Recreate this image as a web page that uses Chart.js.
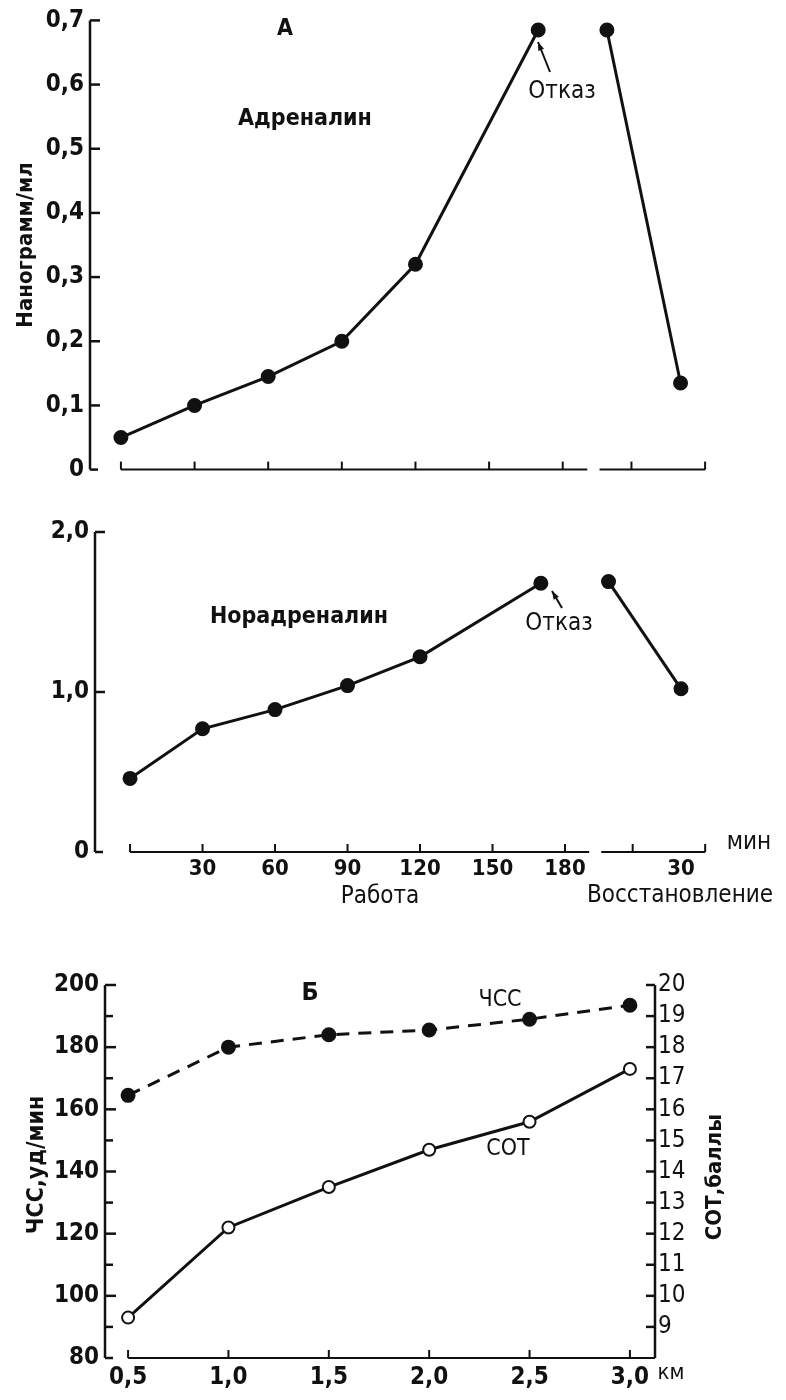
<!DOCTYPE html>
<html lang="ru">
<head>
<meta charset="utf-8">
<title>Адреналин, норадреналин, ЧСС и СОТ</title>
<script src="https://cdn.jsdelivr.net/npm/chart.js@4.4.1/dist/chart.umd.min.js"></script>
<style>
  html, body { margin: 0; padding: 0; background: #fff; }
  #page { position: relative; width: 786px; height: 1400px; }
  canvas { position: absolute; left: 0; }
</style>
</head>
<body>
<div id="page">
  <canvas id="chartA" width="786" height="490" style="top:0"></canvas>
  <canvas id="chartN" width="786" height="430" style="top:490px"></canvas>
  <canvas id="chartB" width="786" height="450" style="top:950px"></canvas>
</div>
<script>
// Panel A: work minutes and recovery minutes
const workMin = [0, 30, 60, 90, 120, 170];
const recMin = [0, 30];
const adrWork = [0.05, 0.1, 0.145, 0.2, 0.32, 0.685];
const adrRec = [0.685, 0.135];
const noradWork = [0.46, 0.77, 0.89, 1.04, 1.22, 1.68];
const noradRec = [1.69, 1.02];
const workTicks = [0, 30, 60, 90, 120, 150, 180];
const workLabels = [30, 60, 90, 120, 150, 180];
const recLabels = [30];
const recTickMarks = [10, 40];
const adrTicks = [0, 0.1, 0.2, 0.3, 0.4, 0.5, 0.6, 0.7];
const noradTicks = [0, 1.0, 2.0];

// Panel Б: distance, km
const km = [0.5, 1.0, 1.5, 2.0, 2.5, 3.0];
const hr = [164.5, 180, 184, 185.5, 189, 193.5];
const rpe = [9.3, 12.2, 13.5, 14.7, 15.6, 17.3];

// recovery is drawn after a break on the same minute axis
const REC_SHIFT = 198;

const INK = '#111';
const FONT = "'DejaVu Sans Condensed', 'Liberation Sans Narrow', 'DejaVu Sans', sans-serif";
Chart.defaults.font.family = FONT;
Chart.defaults.color = INK;

const comma = v => v === 0 ? '0' : v.toFixed(1).replace('.', ',');

function line(ctx, x1, y1, x2, y2) {
    ctx.beginPath();
    ctx.moveTo(x1, y1);
    ctx.lineTo(x2, y2);
    ctx.stroke();
}

function label(ctx, s, x, y, size, bold, rot) {
    ctx.save();
    ctx.fillStyle = INK;
    ctx.font = (bold ? 'bold ' : '') + size + 'px ' + FONT;
    ctx.textAlign = 'center';
    ctx.textBaseline = 'middle';
    ctx.translate(x, y);
    if (rot) ctx.rotate(rot);
    ctx.fillText(s, 0, 0);
    ctx.restore();
}

function arrow(ctx, x1, y1, x2, y2) {
    line(ctx, x1, y1, x2, y2);
    const a = Math.atan2(y2 - y1, x2 - x1);
    ctx.beginPath();
    ctx.moveTo(x2, y2);
    ctx.lineTo(x2 - 9 * Math.cos(a - 0.35), y2 - 9 * Math.sin(a - 0.35));
    ctx.lineTo(x2 - 9 * Math.cos(a + 0.35), y2 - 9 * Math.sin(a + 0.35));
    ctx.closePath();
    ctx.fill();
}

function pts(xs, ys, shift = 0) {
    return xs.map((t, i) => ({ x: t + shift, y: ys[i] }));
}

function series(data) {
    return {
        data: data,
        borderColor: INK,
        borderWidth: 3,
        pointRadius: 6,
        pointBackgroundColor: INK,
        pointBorderColor: INK,
        tension: 0,
        clip: false
    };
}

// axes with inward ticks and the break between work and recovery
function minuteAxes(yTicks) {
    return {
        id: 'minuteAxes',
        afterDraw(chart) {
            const { ctx, chartArea: a, scales: { x, y } } = chart;
            ctx.save();
            ctx.strokeStyle = INK;
            ctx.lineWidth = 2.5;
            const y0 = y.getPixelForValue(0);
            line(ctx, a.left, y.getPixelForValue(yTicks[yTicks.length - 1]), a.left, y0);
            line(ctx, a.left, y0, a.left + 8, y0);
            yTicks.forEach(v => {
                if (v > 0) {
                    const py = y.getPixelForValue(v);
                    line(ctx, a.left, py, a.left + 10, py);
                }
            });
            ctx.lineWidth = 2;
            line(ctx, x.getPixelForValue(0), y0, x.getPixelForValue(190), y0);
            workTicks.forEach(t => {
                const px = x.getPixelForValue(t);
                line(ctx, px, y0, px, y0 - 8);
            });
            line(ctx, x.getPixelForValue(REC_SHIFT - 3), y0, x.getPixelForValue(REC_SHIFT + 40), y0);
            recTickMarks.forEach(t => {
                const px = x.getPixelForValue(REC_SHIFT + t);
                line(ctx, px, y0, px, y0 - 8);
            });
            ctx.restore();
        }
    };
}

function minuteChart(id, work, rec, yTicks, padTop, yWidth, xHeight, showX, notes) {
    return new Chart(document.getElementById(id), {
        type: 'line',
        data: {
            datasets: [
                series(pts(workMin, work)),
                series(pts(recMin, rec, REC_SHIFT))
            ]
        },
        options: {
            responsive: false,
            animation: false,
            devicePixelRatio: 1,
            layout: { padding: { top: padTop, right: 76, left: 0, bottom: 0 } },
            plugins: { legend: { display: false }, tooltip: { enabled: false } },
            scales: {
                x: {
                    type: 'linear',
                    min: id === 'chartA' ? -12.6 : -14.5,
                    max: 240,
                    grid: { display: false, drawTicks: false },
                    border: { display: false },
                    afterBuildTicks: s => {
                        s.ticks = workLabels.concat(recLabels.map(t => t + REC_SHIFT)).map(v => ({ value: v }));
                    },
                    afterFit: s => { s.height = xHeight; },
                    ticks: {
                        display: showX,
                        autoSkip: false,
                        maxRotation: 0,
                        padding: 4,
                        font: { size: 22, weight: 'bold' },
                        callback: v => v > REC_SHIFT - 10 ? v - REC_SHIFT : v
                    }
                },
                y: {
                    min: 0,
                    max: yTicks[yTicks.length - 1],
                    grid: { display: false, drawTicks: false },
                    border: { display: false },
                    afterBuildTicks: s => { s.ticks = yTicks.map(v => ({ value: v })); },
                    afterFit: s => { s.width = yWidth; },
                    ticks: {
                        autoSkip: false,
                        padding: 6,
                        font: { size: 24, weight: 'bold' },
                        callback: v => comma(v)
                    }
                }
            }
        },
        plugins: [minuteAxes(yTicks), { id: 'notes', afterDraw: notes }]
    });
}

minuteChart('chartA', adrWork, adrRec, adrTicks, 20, 90, 18, false, chart => {
    const ctx = chart.ctx;
    ctx.save();
    ctx.fillStyle = INK;
    ctx.strokeStyle = INK;
    ctx.lineWidth = 2;
    label(ctx, 'А', 285, 29, 23, true);
    label(ctx, 'Адреналин', 305, 119, 23, true);
    label(ctx, 'Отказ', 562, 92, 24, false);
    arrow(ctx, 550, 72, 538, 42);
    label(ctx, 'Нанограмм/мл', 26, 245, 22, true, -Math.PI / 2);
    ctx.restore();
});

minuteChart('chartN', noradWork, noradRec, noradTicks, 42, 95, 68, true, chart => {
    const ctx = chart.ctx;
    ctx.save();
    ctx.fillStyle = INK;
    ctx.strokeStyle = INK;
    ctx.lineWidth = 2;
    label(ctx, 'Норадреналин', 299, 127, 23, true);
    label(ctx, 'Отказ', 559, 134, 24, false);
    arrow(ctx, 562, 118, 552, 101);
    label(ctx, 'мин', 749, 353, 24, false);
    label(ctx, 'Работа', 380, 407, 24, false);
    label(ctx, 'Восстановление', 680, 406, 24, false);
    ctx.restore();
});

// Panel Б axes
const kmAxes = {
    id: 'kmAxes',
    afterDraw(chart) {
        const { ctx, chartArea: a, scales: { x, y, y2 } } = chart;
        ctx.save();
        ctx.strokeStyle = INK;
        ctx.lineWidth = 2.5;
        line(ctx, a.left, a.top, a.left, a.bottom);
        line(ctx, a.left, a.bottom, a.left + 8, a.bottom);
        for (let v = 90; v <= 200; v += 10) {
            const py = y.getPixelForValue(v);
            line(ctx, a.left, py, a.left + (v % 20 === 0 ? 11 : 8), py);
        }
        line(ctx, a.right, a.top, a.right, a.bottom);
        for (let v = 9; v <= 20; v++) {
            const py = y2.getPixelForValue(v);
            line(ctx, a.right, py, a.right - 9, py);
        }
        ctx.lineWidth = 2;
        line(ctx, x.getPixelForValue(km[0]), a.bottom, a.right, a.bottom);
        km.forEach(v => {
            const px = x.getPixelForValue(v);
            line(ctx, px, a.bottom, px, a.bottom - 8);
        });
        ctx.restore();
    }
};

new Chart(document.getElementById('chartB'), {
    type: 'line',
    data: {
        datasets: [
            Object.assign(series(pts(km, hr)), { yAxisID: 'y', borderDash: [13, 9] }),
            Object.assign(series(pts(km, rpe)), {
                yAxisID: 'y2',
                borderWidth: 3,
                pointBackgroundColor: '#fff',
                pointBorderWidth: 2
            })
        ]
    },
    options: {
        responsive: false,
        animation: false,
        devicePixelRatio: 1,
        layout: { padding: { top: 35, right: 0, left: 0, bottom: 0 } },
        plugins: { legend: { display: false }, tooltip: { enabled: false } },
        scales: {
            x: {
                type: 'linear',
                min: 0.385,
                max: 3.125,
                grid: { display: false, drawTicks: false },
                border: { display: false },
                afterBuildTicks: s => { s.ticks = km.map(v => ({ value: v })); },
                afterFit: s => { s.height = 42; },
                ticks: {
                    autoSkip: false,
                    maxRotation: 0,
                    padding: 5,
                    font: { size: 24, weight: 'bold' },
                    callback: v => comma(v)
                }
            },
            y: {
                position: 'left',
                min: 80,
                max: 200,
                grid: { display: false, drawTicks: false },
                border: { display: false },
                afterFit: s => { s.width = 105; },
                ticks: { stepSize: 20, autoSkip: false, padding: 6, font: { size: 24, weight: 'bold' } }
            },
            y2: {
                position: 'right',
                min: 8,
                max: 20,
                grid: { display: false, drawTicks: false },
                border: { display: false },
                afterFit: s => { s.width = 131; },
                ticks: {
                    stepSize: 1,
                    autoSkip: false,
                    padding: 3,
                    font: { size: 24, lineHeight: 1 },
                    callback: v => v === 8 ? '' : v
                }
            }
        }
    },
    plugins: [kmAxes, {
        id: 'notes',
        afterDraw(chart) {
            const ctx = chart.ctx;
            label(ctx, 'Б', 310, 43, 25, true);
            label(ctx, 'ЧСС', 500, 50, 23, false);
            label(ctx, 'СОТ', 508, 199, 23, false);
            label(ctx, 'км', 671, 423, 22, false);
            label(ctx, 'ЧСС,уд/мин', 37, 215, 23, true, -Math.PI / 2);
            label(ctx, 'СОТ,баллы', 715, 227, 22, true, -Math.PI / 2);
        }
    }]
});
</script>
</body>
</html>
